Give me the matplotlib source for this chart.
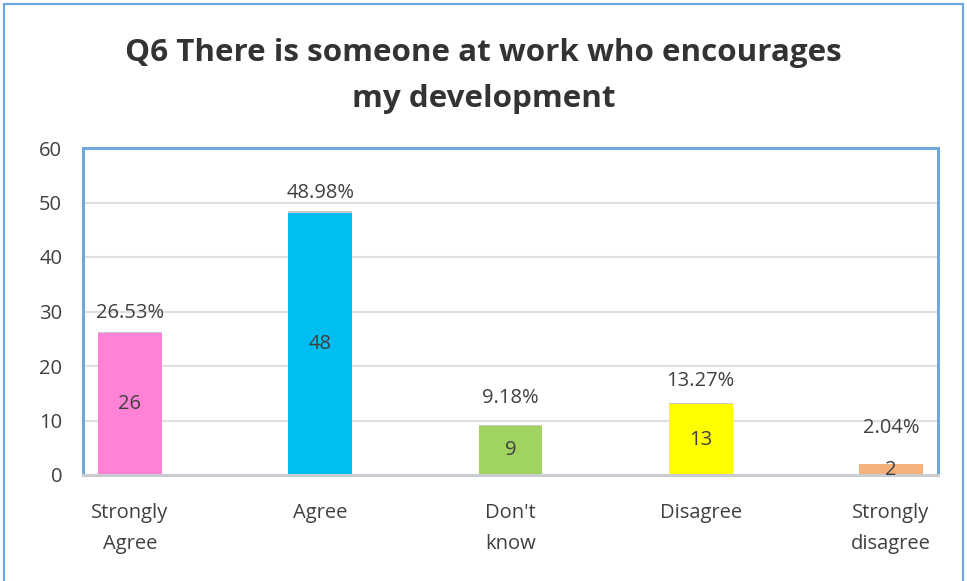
import matplotlib.pyplot as plt
from matplotlib.patches import Rectangle

plt.rcParams['font.family'] = ['Open Sans', 'DejaVu Sans']

categories = ['Strongly\nAgree', 'Agree', "Don't\nknow", 'Disagree', 'Strongly\ndisagree']
counts = [26, 48, 9, 13, 2]
percents = [26.53, 48.98, 9.18, 13.27, 2.04]

bar_colors = ['#ff82d6', '#00bdf2', '#a0d35f', '#ffff00', '#f6b07c']
cap_colors = ['#c8c8c8', '#c8c8c8', '#c8c8c8', '#c8c8c8', '#e8561c']
pct_offsets = [19, 18, 27, 22, 36]   # label lift above bar top, in px
text_color = '#404040'
blue = '#6fa8dc'

fig = plt.figure(figsize=(9.67, 5.81), dpi=100)
fig.patches.append(Rectangle((4/967, -0.1), 959/967, 1.1 - 4/581,
                             transform=fig.transFigure, fill=False,
                             edgecolor=blue, linewidth=1.6))

ax = fig.add_axes([83/967, 106/581, 855/967, 327/581])
x = range(len(categories))
ax.bar(x, counts, width=0.336, color=bar_colors, zorder=2)
# percentage series stacked on top as a thin cap
ax.bar(x, [p/100 for p in percents], bottom=counts, width=0.336,
       color=cap_colors, zorder=2)

for i, (c, p) in enumerate(zip(counts, percents)):
    ax.text(i, c/2, str(c), ha='center', va='center', fontsize=14.5, color=text_color, zorder=3)
    ax.annotate(f'{p:.2f}%', (i, c + p/100), xytext=(0, pct_offsets[i]*0.72),
                textcoords='offset points', ha='center', va='center',
                fontsize=14.5, color=text_color)

ax.set_xlim(-0.247, 4.247)
ax.set_ylim(0, 60)
ax.set_yticks(range(0, 61, 10))
ax.set_xticks(list(x))
ax.set_xticklabels(categories, linespacing=1.78)
ax.tick_params(axis='both', length=0, labelsize=14.5, colors=text_color)
ax.tick_params(axis='y', pad=15)
ax.tick_params(axis='x', pad=20)
ax.grid(axis='y', color='#e0e0e0', linewidth=1.5, zorder=0)
ax.set_axisbelow(True)
for s in ['left', 'top', 'right']:
    ax.spines[s].set_color(blue)
    ax.spines[s].set_linewidth(2.2)
ax.spines['bottom'].set_color('#c9cdd1')
ax.spines['bottom'].set_linewidth(2.2)

fig.text(0.5, 1 - 76/581, 'Q6 There is someone at work who encourages\nmy development',
         ha='center', va='center', fontsize=22.6, fontweight='bold',
         color='#333333', linespacing=1.72)

fig.savefig('out.png', dpi=100)
